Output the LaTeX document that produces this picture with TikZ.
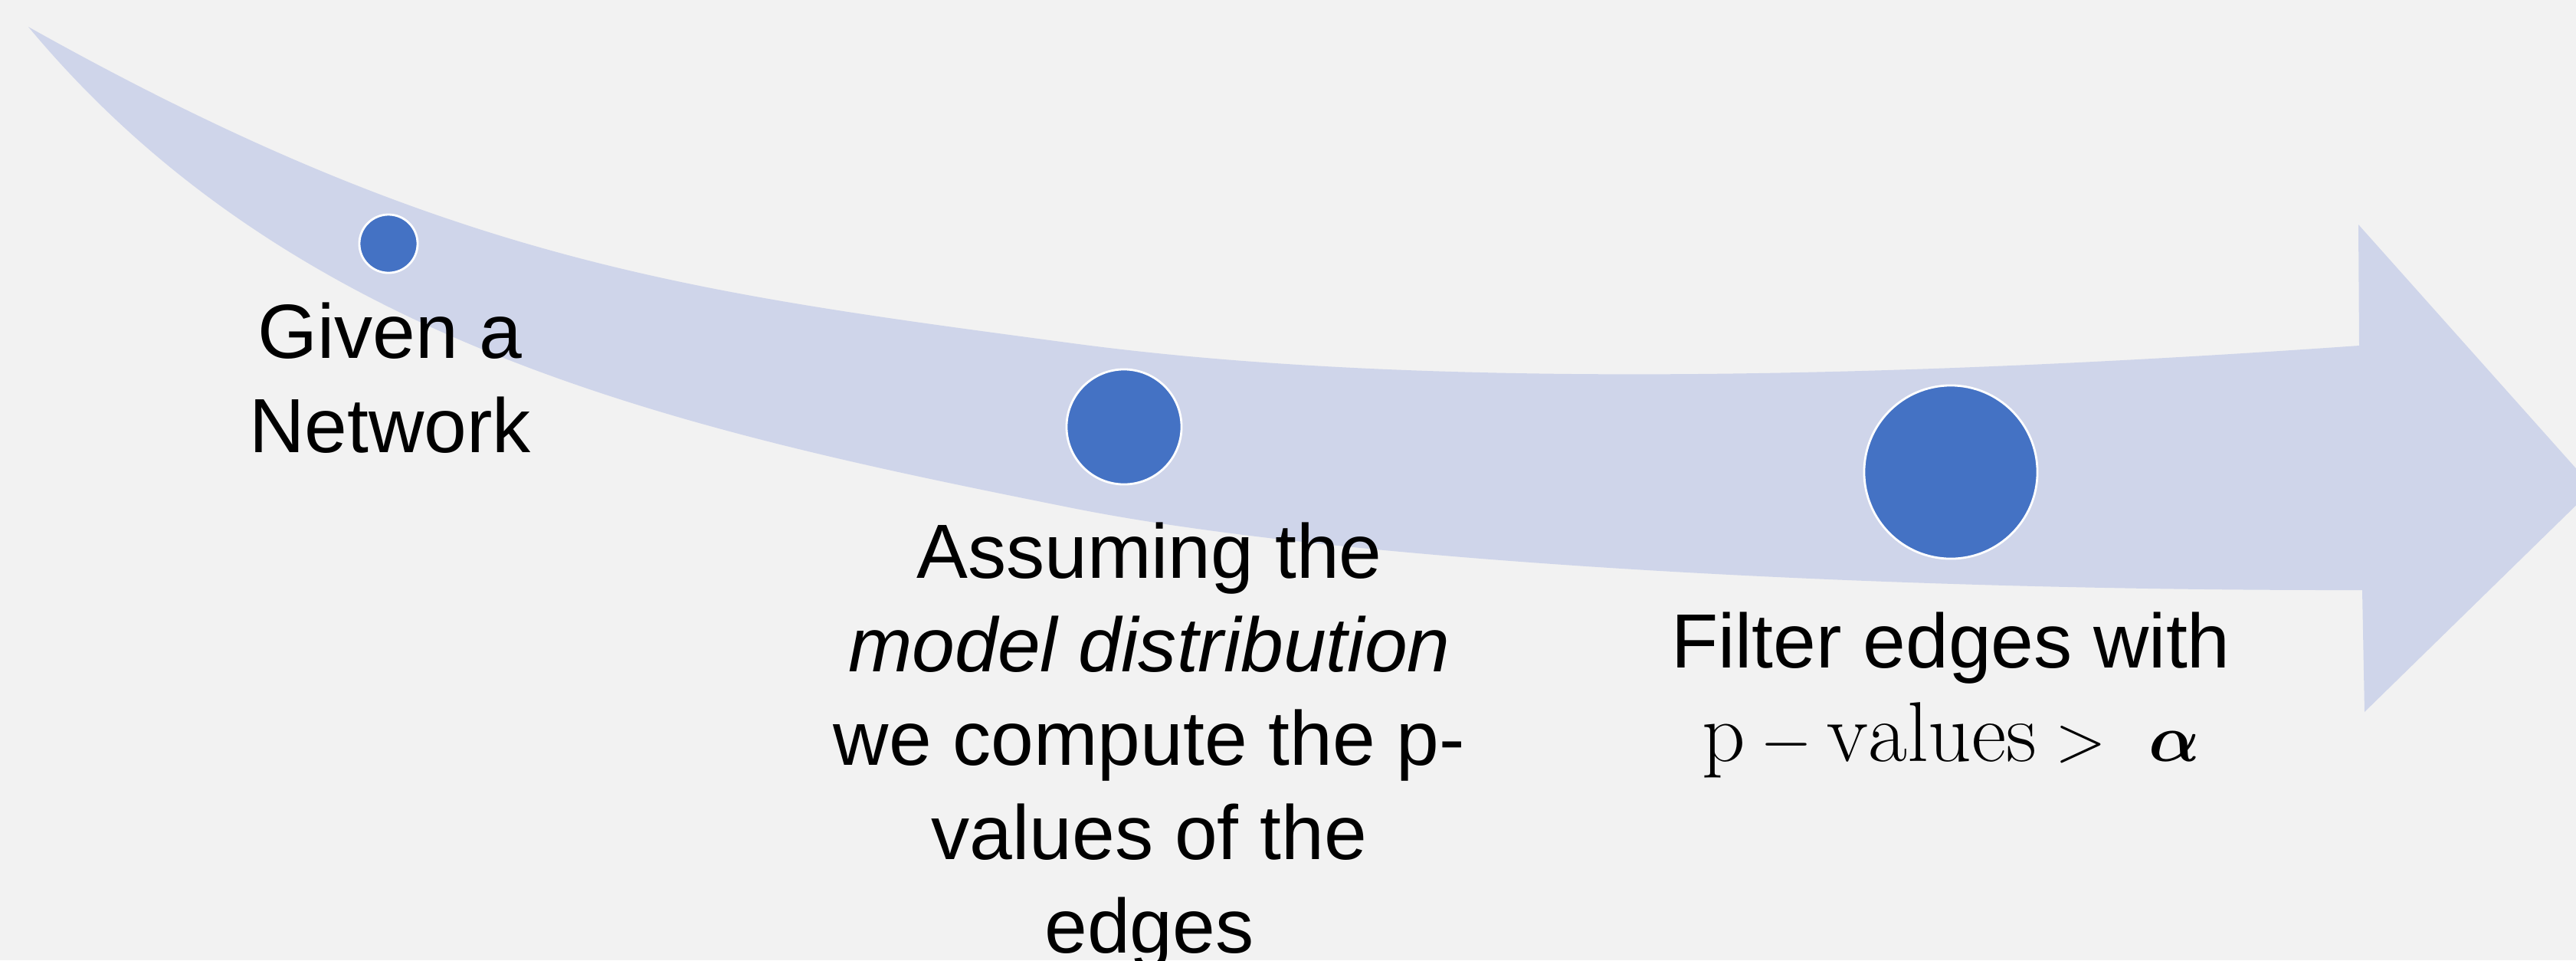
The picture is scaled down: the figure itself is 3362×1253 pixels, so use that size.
\documentclass[tikz,border=0pt]{standalone}
\usepackage{amsmath}
\usepackage{amssymb}
\usepackage{fontspec}
\setsansfont{Liberation Sans}

\definecolor{bgGrey}{HTML}{F2F2F2}
\definecolor{bandBlue}{HTML}{CFD5EA}
\definecolor{dotBlue}{HTML}{4472C4}

\tikzset{
	dot/.style = {circle, fill = dotBlue, draw = white, line width = 0.8pt, inner sep = 0pt},
	steptext/.style = {align = center, inner sep = 0pt, anchor = base, font = \sffamily\fontsize{28.5}{34.7}\selectfont}
}

\begin{document}
\begin{tikzpicture}[x = 0.01cm, y = -0.01cm]
	\useasboundingbox (0,0) rectangle (3362,1253);
	\clip (0,0) rectangle (3362,1253);
	\fill[bgGrey] (0,0) rectangle (3362,1253);
	\fill[bandBlue]
	(37,35) .. controls (587,343) and (900,381) .. (1400,448)
	.. controls (1900,515) and (2579,486) .. (3079,451)
	-- (3078,293) -- (3385,637) -- (3086,929) -- (3083,770)
	.. controls (2450,771) and (1750,733) .. (1400,663)
	.. controls (900,563) and (387,455) .. (37,35)
	-- cycle;
	\node[dot, minimum size = 0.76cm] (network) at (507,318) {};
	\node[dot, minimum size = 1.5cm] (model) at (1467,557) {};
	\node[dot, minimum size = 2.26cm] (filter) at (2546,616) {};
	\node[steptext] (networktext) at (509,590) {Given a\\Network};
	\node[steptext] (modeltext) at (1500,1243) {Assuming the\\\textit{model distribution}\\we compute the p-\\values of the\\edges};
	\node[steptext] (filtertext) at (2546,993) {Filter edges with\\\fontsize{31.5}{34.7}\selectfont$\mathrm{p}-\mathrm{values}>\ \boldsymbol{\alpha}$};
\end{tikzpicture}
\end{document}
